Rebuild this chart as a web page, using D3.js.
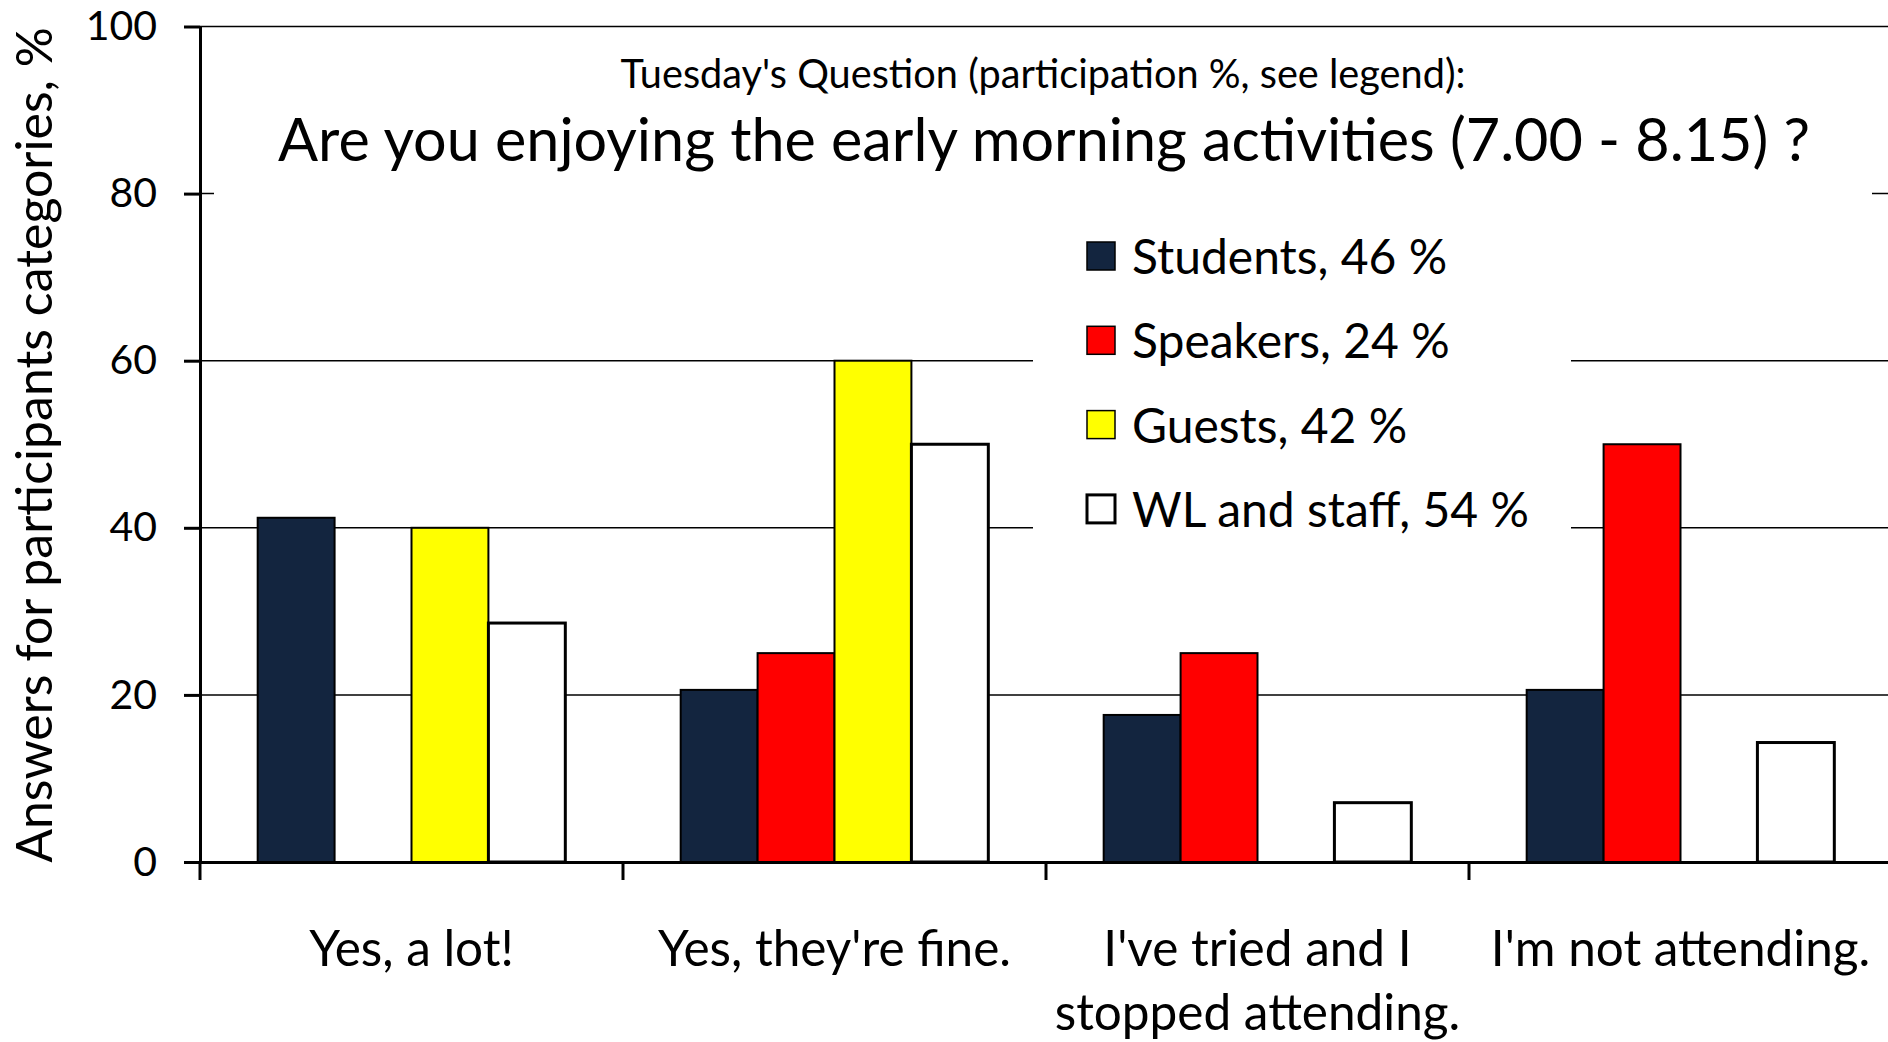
<meta charset="utf-8">
<head>
  <title>Early morning activities</title>
</head>

<style>
body { margin: 0; background: #fff; }
text { font-family: Lato, "Open Sans", sans-serif; fill: #000; }
</style>

<body>
  <div id="content"></div>
  <script src="https://cdnjs.cloudflare.com/ajax/libs/d3/7.8.5/d3.min.js"></script>
  <script>

const width = 1888
const height = 1042

// answers
var categories = ["Yes, a lot!", "Yes, they're fine.", "I've tried and I stopped attending.", "I'm not attending."];
var categoryLines = [["Yes, a lot!"], ["Yes, they're fine."], ["I've tried and I", "stopped attending."], ["I'm not attending."]];

// participant groups, % of each group
var seriesNames = ["Students, 46 %", "Speakers, 24 %", "Guests, 42 %", "WL and staff, 54 %"];
var students = [41.2, 20.6, 17.6, 20.6];
var speakers = [0, 25, 25, 50];
var guests = [40, 60, 0, 0];
var staff = [28.6, 50, 7.1, 14.3];

var yTicks = [0, 20, 40, 60, 80, 100];

var colors = ["#13253f", "#ff0000", "#ffff00", "#ffffff"];
var strokes = [2, 2, 2, 3];

var values = [students, speakers, guests, staff];

const svg = d3.select('#content')
  .append('svg')
    .attr('width', width)
    .attr('height', height)

var y = d3.scaleLinear()
  .domain([0, 100])
  .range([862, 26.5])

var x0 = d3.scaleBand()
  .domain(categories)
  .range([200, 1892])

var x1 = d3.scaleBand()
  .domain(d3.range(seriesNames.length))
  .range([0, x0.bandwidth()])
  .paddingInner(0)
  .paddingOuter(0.75)

// gridlines
svg.append('g')
  .selectAll('line')
  .data(yTicks.slice(1))
  .enter()
  .append('line')
    .attr('x1', 200)
    .attr('x2', width)
    .attr('y1', function(d) { return y(d) })
    .attr('y2', function(d) { return y(d) })
    .attr('stroke', '#000')
    .attr('stroke-width', 1.5)

// title box (hides the 80 gridline)
svg.append('rect')
  .attr('x', 214)
  .attr('y', 40)
  .attr('width', 1872 - 214)
  .attr('height', 165)
  .attr('fill', '#fff')

// legend box
svg.append('rect')
  .attr('x', 1033)
  .attr('y', 210)
  .attr('width', 1571 - 1033)
  .attr('height', 340)
  .attr('fill', '#fff')

svg.append('text')
  .attr('x', 1043)
  .attr('y', 88)
  .attr('text-anchor', 'middle')
  .style('font-size', '39.7px')
  .text("Tuesday's Question (participation %, see legend):")

svg.append('text')
  .attr('x', 1044)
  .attr('y', 161)
  .attr('text-anchor', 'middle')
  .style('font-size', '59.3px')
  .text("Are you enjoying the early morning activities (7.00 - 8.15) ?")

// bars
var groups = svg.append('g')
  .selectAll('g')
  .data(seriesNames)
  .enter()
  .append('g')

groups.selectAll('rect')
  .data(function(d, i) {
    return values[i].map(function(v, j) { return { s: i, cat: categories[j], value: v } })
      .filter(function(d) { return d.value > 0 })
  })
  .enter()
  .append('rect')
    .attr('x', function(d) { return x0(d.cat) + x1(d.s) })
    .attr('y', function(d) { return y(d.value) })
    .attr('width', x1.bandwidth())
    .attr('height', function(d) { return y(0) - y(d.value) })
    .attr('fill', function(d) { return colors[d.s] })
    .attr('stroke', '#000')
    .attr('stroke-width', function(d) { return strokes[d.s] })

// y axis
var yAxis = svg.append('g')
  .attr('transform', 'translate(200,0)')
  .call(d3.axisLeft(y).tickValues(yTicks).tickSize(16).tickPadding(27).tickSizeOuter(0))

yAxis.select('.domain').attr('stroke-width', 3)
yAxis.selectAll('.tick line').attr('stroke-width', 3)
yAxis.selectAll('.tick text')
  .style('font-family', 'Lato, sans-serif')
  .style('font-size', '41px')
  .attr('fill', '#000')

// x axis
var xAxis = svg.append('g')
  .attr('transform', 'translate(0,862)')
  .call(d3.axisBottom(x0).tickSize(0).tickSizeOuter(0).tickFormat(''))

xAxis.select('.domain').attr('stroke-width', 3)

svg.append('g')
  .selectAll('line')
  .data(categories)
  .enter()
  .append('line')
    .attr('x1', function(d) { return x0(d) })
    .attr('x2', function(d) { return x0(d) })
    .attr('y1', 862)
    .attr('y2', 880)
    .attr('stroke', '#000')
    .attr('stroke-width', 3)

var catText = svg.append('g')
  .selectAll('text')
  .data(categories)
  .enter()
  .append('text')
    .attr('text-anchor', 'middle')
    .style('font-size', '49.5px')

catText.selectAll('tspan')
  .data(function(d, i) { return categoryLines[i] })
  .enter()
  .append('tspan')
    .attr('x', function() { return x0(d3.select(this.parentNode).datum()) + x0.bandwidth() / 2 })
    .attr('y', function(d, i) { return 966 + i * 64 })
    .text(function(d) { return d })

// y label
svg.append('text')
  .attr('transform', 'translate(52,445) rotate(-90)')
  .attr('text-anchor', 'middle')
  .style('font-size', '50px')
  .text("Answers for participants categories, %")

// legend
var legend = svg.append('g')
  .selectAll('g')
  .data(seriesNames)
  .enter()
  .append('g')
    .attr('transform', function(d, i) { return 'translate(1087,' + (256 + i * 84.3) + ')' })

legend.append('rect')
  .attr('x', 0)
  .attr('y', -14)
  .attr('width', 28)
  .attr('height', 28)
  .attr('fill', function(d, i) { return colors[i] })
  .attr('stroke', '#000')
  .attr('stroke-width', function(d, i) { return i == 3 ? 3 : 1.5 })

legend.append('text')
  .attr('x', 45)
  .attr('y', 18)
  .style('font-size', '48px')
  .text(function(d) { return d })

</script>
</body>
</html>
